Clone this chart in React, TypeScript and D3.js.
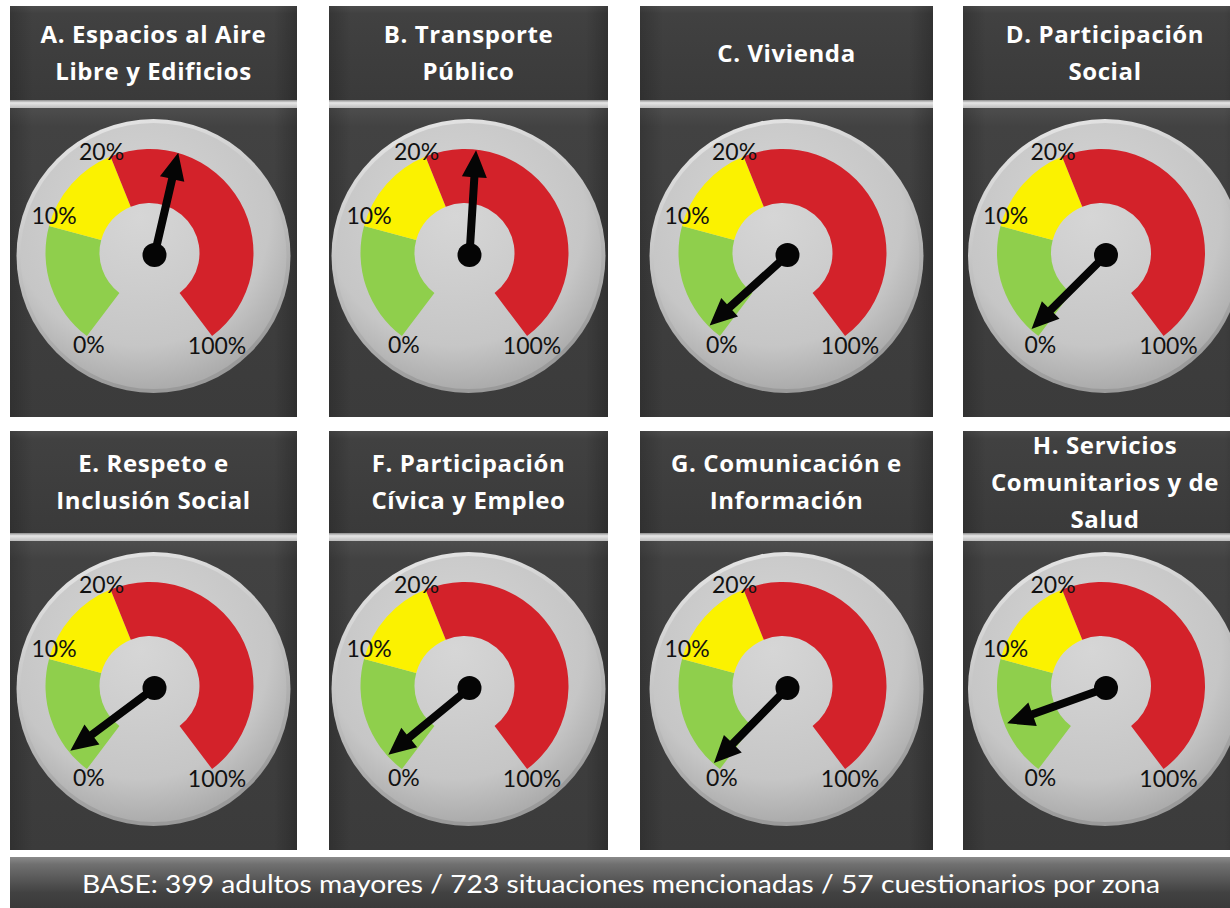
import React, { useEffect, useRef } from "react";
import * as d3 from "d3";

// gauge titles (one entry per line)
const titles = [
  ["A. Espacios al Aire", "Libre y Edificios"],
  ["B. Transporte", "Público"],
  ["C. Vivienda"],
  ["D. Participación", "Social"],
  ["E. Respeto e", "Inclusión Social"],
  ["F. Participación", "Cívica y Empleo"],
  ["G. Comunicación e", "Información"],
  ["H. Servicios", "Comunitarios y de", "Salud"],
];

// needle value (%) per gauge
const values = [37, 32.4, 1.6, 1.2, 2.4, 2.0, 1.1, 4.9];

// colour bands of the dial
const bandStops = [0, 10, 20, 100];
const bandColors = ["#8fcf4c", "#fbf200", "#d3222a"];
const tickLabels = ["0%", "10%", "20%", "100%"];

const footerText =
  "BASE: 399 adultos mayores / 723 situaciones mencionadas /  57 cuestionarios por zona";

const App = () => {
  const svgRef = useRef(null);

  useEffect(() => {
    drawChart();
  }, []);

  const drawChart = () => {
    const root = d3.select(svgRef.current);
    root.selectAll("*").remove();

    const width = 1230;
    const height = 908;
    root.attr("width", width).attr("height", height);

    const defs = root.append("defs");

    const lin = (id, stops, vertical = true) => {
      const g = defs
        .append("linearGradient")
        .attr("id", id)
        .attr("x1", 0)
        .attr("y1", 0)
        .attr("x2", vertical ? 0 : 1)
        .attr("y2", vertical ? 1 : 0);
      stops.forEach(([o, c]) => g.append("stop").attr("offset", o).attr("stop-color", c));
    };
    lin("hdr", [[0, "#4c4c4c"], [0.08, "#414141"], [1, "#3a3a3a"]]);
    lin("box", [[0, "#4d4d4d"], [0.06, "#424242"], [1, "#3b3b3b"]]);
    lin("strip", [[0, "#8c8c8c"], [0.35, "#e6e6e6"], [1, "#bdbdbd"]]);
    lin("foot", [[0, "#8a8a8a"], [0.12, "#707070"], [0.6, "#414141"], [1, "#363636"]]);
    lin("side", [[0, "rgba(0,0,0,0.18)"], [0.08, "rgba(0,0,0,0)"], [0.92, "rgba(0,0,0,0)"], [1, "rgba(0,0,0,0.22)"]], false);

    const rg = defs
      .append("radialGradient")
      .attr("id", "dial")
      .attr("cx", "45%")
      .attr("cy", "35%")
      .attr("r", "65%");
    rg.append("stop").attr("offset", 0).attr("stop-color", "#d6d6d6");
    rg.append("stop").attr("offset", 0.75).attr("stop-color", "#c6c6c6");
    rg.append("stop").attr("offset", 1).attr("stop-color", "#acacac");

    const rim = defs
      .append("linearGradient")
      .attr("id", "rim")
      .attr("x1", 0)
      .attr("y1", 0)
      .attr("x2", 0.3)
      .attr("y2", 1);
    rim.append("stop").attr("offset", 0).attr("stop-color", "#ececec");
    rim.append("stop").attr("offset", 1).attr("stop-color", "#9a9a9a");

    const cols = [
      { x: 10, w: 287 },
      { x: 329, w: 279 },
      { x: 640, w: 293 },
      { x: 963, w: 284 },
    ];
    const rows = [
      { hy: 6, hh: 94, by: 108, bh: 309 },
      { hy: 431, hh: 102, by: 541, bh: 309 },
    ];

    const toRad = (d) => (d * Math.PI) / 180;
    const angle = d3
      .scaleLinear()
      .domain(bandStops)
      .range([-143, -75, -22, 143].map(toRad));

    const outerR = 104;
    const innerR = 50;
    const arc = d3.arc().innerRadius(innerR).outerRadius(outerR);

    const labelNudge = [
      [2, 9],
      [5, -10],
      [-9, -5],
      [5, 10],
    ];

    titles.forEach((lines, i) => {
      const col = cols[i % 4];
      const row = rows[Math.floor(i / 4)];
      const g = root.append("g");

      // header
      g.append("rect")
        .attr("x", col.x)
        .attr("y", row.hy)
        .attr("width", col.w)
        .attr("height", row.hh)
        .attr("fill", "url(#hdr)");
      g.append("rect")
        .attr("x", col.x)
        .attr("y", row.hy)
        .attr("width", col.w)
        .attr("height", row.hh)
        .attr("fill", "url(#side)");
      g.append("rect")
        .attr("x", col.x)
        .attr("y", row.hy + row.hh)
        .attr("width", col.w)
        .attr("height", row.by - row.hy - row.hh)
        .attr("fill", "url(#strip)");

      const lineH = 37;
      const midY = row.hy + row.hh / 2;
      g.append("text")
        .attr("x", col.x + col.w / 2)
        .attr("text-anchor", "middle")
        .attr("fill", "#ffffff")
        .attr("font-family", "'Open Sans', Lato, sans-serif")
        .attr("font-weight", 700)
        .attr("font-size", 24)
        .attr("letter-spacing", 0.6)
        .selectAll("tspan")
        .data(lines)
        .enter()
        .append("tspan")
        .attr("x", col.x + col.w / 2)
        .attr("y", (d, k) => midY + (k - (lines.length - 1) / 2) * lineH + 8.5)
        .text((d) => d);

      // gauge box
      g.append("rect")
        .attr("x", col.x)
        .attr("y", row.by)
        .attr("width", col.w)
        .attr("height", row.bh)
        .attr("fill", "url(#box)");
      g.append("rect")
        .attr("x", col.x)
        .attr("y", row.by)
        .attr("width", col.w)
        .attr("height", row.bh)
        .attr("fill", "url(#side)");

      const cx = col.x + col.w / 2;
      const cy = row.by + 148;
      g.append("circle")
        .attr("cx", cx)
        .attr("cy", cy)
        .attr("r", 137)
        .attr("fill", "url(#rim)");
      g.append("circle")
        .attr("cx", cx)
        .attr("cy", cy)
        .attr("r", 133)
        .attr("fill", "url(#dial)");

      const ax = cx - 4;
      const ay = cy - 3;
      const dial = g.append("g").attr("transform", `translate(${ax},${ay})`);

      dial
        .selectAll("path.band")
        .data(bandColors)
        .enter()
        .append("path")
        .attr("class", "band")
        .attr("fill", (d) => d)
        .attr("d", (d, k) =>
          arc({ startAngle: angle(bandStops[k]), endAngle: angle(bandStops[k + 1]) })
        );

      dial
        .selectAll("text.tick")
        .data(tickLabels)
        .enter()
        .append("text")
        .attr("class", "tick")
        .attr("x", (d, k) => Math.sin(angle(bandStops[k])) * outerR + labelNudge[k][0])
        .attr("y", (d, k) => -Math.cos(angle(bandStops[k])) * outerR + labelNudge[k][1])
        .attr("dy", "0.35em")
        .attr("text-anchor", "middle")
        .attr("fill", "#111")
        .attr("font-family", "Lato, 'Open Sans', sans-serif")
        .attr("font-size", 23)
        .text((d) => d);

      // needle
      const hx = 5;
      const hy = 2;
      const a = angle(values[i]);
      const len = 105;
      const headL = 27;
      const headW = 12.5;
      const shaftW = 4;
      const ux = Math.sin(a);
      const uy = -Math.cos(a);
      const px = -uy;
      const py = ux;
      const b = len - headL;
      const pts = [
        [px * shaftW, py * shaftW],
        [ux * b + px * shaftW, uy * b + py * shaftW],
        [ux * b + px * headW, uy * b + py * headW],
        [ux * len, uy * len],
        [ux * b - px * headW, uy * b - py * headW],
        [ux * b - px * shaftW, uy * b - py * shaftW],
        [-px * shaftW, -py * shaftW],
      ];
      const needle = dial.append("g").attr("transform", `translate(${hx},${hy})`);
      needle
        .append("path")
        .attr("d", d3.line()(pts) + "Z")
        .attr("fill", "#050505");
      needle.append("circle").attr("r", 12).attr("fill", "#050505");
    });

    // footer
    root
      .append("rect")
      .attr("x", 10)
      .attr("y", 857)
      .attr("width", 1230)
      .attr("height", 60)
      .attr("fill", "url(#foot)");
    root
      .append("text")
      .attr("x", 621)
      .attr("y", 893)
      .attr("text-anchor", "middle")
      .attr("fill", "#ffffff")
      .attr("font-family", "Lato, 'Open Sans', sans-serif")
      .attr("font-size", 25)
      .attr("textLength", 1078)
      .attr("lengthAdjust", "spacingAndGlyphs")
      .text(footerText);
  };

  return (
    <div style={{ position: "absolute", left: 0, top: 0 }}>
      <svg ref={svgRef} style={{ display: "block", background: "#ffffff" }}></svg>
    </div>
  );
};

export default App;
